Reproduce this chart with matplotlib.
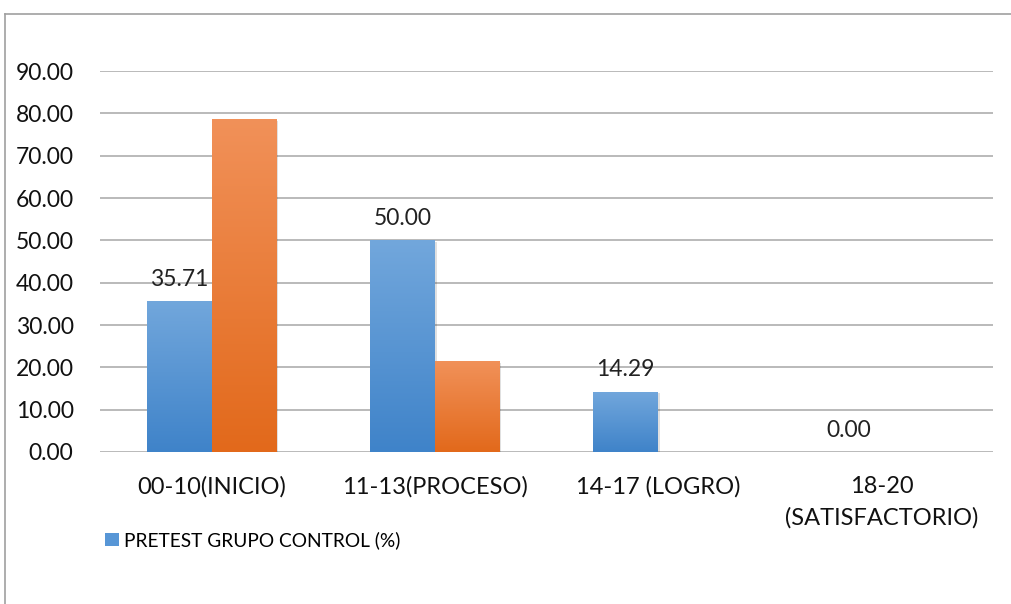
import numpy as np
import matplotlib
matplotlib.use("Agg")
import matplotlib.pyplot as plt
from matplotlib.colors import LinearSegmentedColormap
from matplotlib.patches import Patch
from matplotlib.lines import Line2D
import matplotlib.patheffects as pe

plt.rcParams['font.family'] = ['Lato', 'DejaVu Sans']

categories = ["00-10(INICIO)", "11-13(PROCESO)", "14-17 (LOGRO)", "18-20\n(SATISFACTORIO)"]
pretest = [35.71, 50.00, 14.29, 0.00]
posttest = [78.57, 21.43, 0.00, 0.00]
yticks = [0, 10, 20, 30, 40, 50, 60, 70, 80, 90]
legend_label = "PRETEST GRUPO CONTROL (%)"

blue_top, blue_bottom = "#72a7dc", "#3f83c9"
orange_top, orange_bottom = "#f19159", "#e2691b"

fig = plt.figure(figsize=(10.12, 6.04), dpi=100)
ax = fig.add_axes([100 / 1012, 1 - 452 / 604, 893 / 1012, 381 / 604])

x = np.arange(len(categories))
w = 0.29

shadow = [pe.SimplePatchShadow(offset=(1.2, -1.2), shadow_rgbFace="#000000", alpha=0.12), pe.Normal()]
b1 = ax.bar(x - w / 2, pretest, width=w, facecolor="none", edgecolor="none", zorder=3, path_effects=shadow)
b2 = ax.bar(x + w / 2, posttest, width=w, facecolor="none", edgecolor="none", zorder=3, path_effects=shadow)


def gradient_fill(bars, top, bottom):
    cmap = LinearSegmentedColormap.from_list("g", [bottom, top])
    grad = np.linspace(0, 1, 256).reshape(-1, 1)
    for bar in bars:
        bx, by = bar.get_xy()
        bw, bh = bar.get_width(), bar.get_height()
        if bh <= 0:
            continue
        im = ax.imshow(grad, cmap=cmap, extent=[bx, bx + bw, by, by + bh],
                       origin="lower", aspect="auto", zorder=4)
        im.set_clip_path(bar)


gradient_fill(b1, blue_top, blue_bottom)
gradient_fill(b2, orange_top, orange_bottom)

for xi, v in zip(x - w / 2, pretest):
    ax.annotate(f"{v:.2f}", (xi, v), xytext=(0, 8), textcoords="offset points",
                ha="center", va="bottom", fontsize=16.5, color="#222222", zorder=5)

ax.set_xlim(-0.5, len(categories) - 0.5)
ax.set_ylim(0, 90)
ax.set_yticks(yticks)
ax.set_yticklabels([f"{t:.2f}" for t in yticks], fontsize=16.5, color="#111111")
ax.set_xticks(x)
ax.set_xticklabels(categories, fontsize=17, color="#111111", linespacing=1.6)
ax.tick_params(axis="both", length=0)
ax.tick_params(axis="y", pad=19)
ax.tick_params(axis="x", pad=17)
ax.yaxis.grid(True, color="#b4b4b4", linewidth=1.3, zorder=0)
ax.set_axisbelow(True)
for s in ax.spines.values():
    s.set_visible(False)

ax.legend(handles=[Patch(facecolor="#5796d6", edgecolor="none")], labels=[legend_label],
          loc="center left", bbox_to_anchor=(88 / 1012, 1 - 540 / 604), bbox_transform=fig.transFigure,
          frameon=False, fontsize=13.8, handlelength=0.7, handleheight=0.7, handletextpad=0.3)

# chart area border
fig.add_artist(Line2D([5 / 1012, 5 / 1012], [0, 1 - 14 / 604], color="#a0a0a0", lw=1.2, transform=fig.transFigure))
fig.add_artist(Line2D([5 / 1012, 1], [1 - 14 / 604, 1 - 14 / 604], color="#a0a0a0", lw=1.2, transform=fig.transFigure))

fig.savefig("out.png", dpi=100)
